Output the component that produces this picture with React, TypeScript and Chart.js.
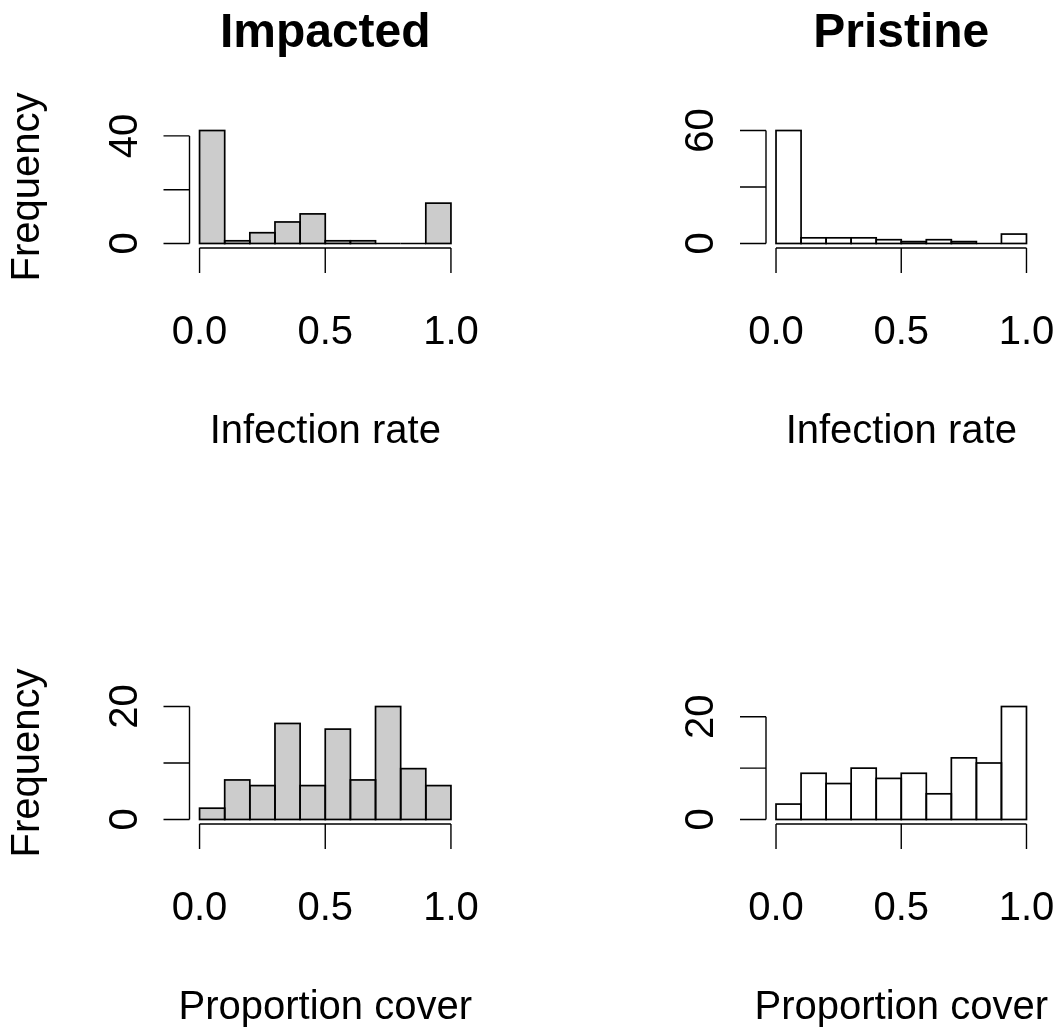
import React, { useEffect, useRef } from "react";
import { Chart, registerables } from "chart.js";

Chart.register(...registerables);

// ---------- data ----------
const binCenters = [0.05, 0.15, 0.25, 0.35, 0.45, 0.55, 0.65, 0.75, 0.85, 0.95];
const impactedInfection = [42, 1, 4, 8, 11, 1, 1, 0, 0, 15];
const pristineInfection = [60, 3, 3, 3, 2, 1, 2, 1, 0, 5];
const impactedCover = [2, 7, 6, 17, 6, 16, 7, 20, 9, 6];
const pristineCover = [3, 9, 7, 10, 8, 9, 5, 12, 11, 22];

const xTicks = [0, 0.5, 1];
const xTickLabels = ["0.0", "0.5", "1.0"];
const yTicksImpInf = [0, 20, 40];
const yLabelsImpInf = ["0", "", "40"];
const yTicksPriInf = [0, 30, 60];
const yLabelsPriInf = ["0", "", "60"];
const yTicksCover = [0, 10, 20];
const yLabelsCover = ["0", "", "20"];

const titles = ["Impacted", "Pristine"];
const xTitleInfection = "Infection rate";
const xTitleCover = "Proportion cover";
const yTitle = "Frequency";

// ---------- layout / style ----------
const W = 1059;
const H = 1030;
const FONT = '"Liberation Sans", Arial, Helvetica, sans-serif';
const LW = 1.7;
const GREY = "#cccccc";

type PanelDef = {
  values: number[];
  fill: string;
  yTicks: number[];
  yLabels: string[];
  xTitle: string;
  title: string | null;
  yTitle: string | null;
  area: { left: number; right: number; top: number; bottom: number };
};

const COLS = [
  { left: 189.5, right: 461 },
  { left: 766, right: 1036.5 },
];
const ROWS = [
  { top: 126, bottom: 248 },
  { top: 702, bottom: 824 },
];

const panels: PanelDef[] = [
  {
    values: impactedInfection, fill: GREY, yTicks: yTicksImpInf, yLabels: yLabelsImpInf,
    xTitle: xTitleInfection, title: titles[0], yTitle: yTitle,
    area: { ...COLS[0], ...ROWS[0] },
  },
  {
    values: pristineInfection, fill: "#ffffff", yTicks: yTicksPriInf, yLabels: yLabelsPriInf,
    xTitle: xTitleInfection, title: titles[1], yTitle: null,
    area: { ...COLS[1], ...ROWS[0] },
  },
  {
    values: impactedCover, fill: GREY, yTicks: yTicksCover, yLabels: yLabelsCover,
    xTitle: xTitleCover, title: null, yTitle: yTitle,
    area: { ...COLS[0], ...ROWS[1] },
  },
  {
    values: pristineCover, fill: "#ffffff", yTicks: yTicksCover, yLabels: yLabelsCover,
    xTitle: xTitleCover, title: null, yTitle: null,
    area: { ...COLS[1], ...ROWS[1] },
  },
];

function makeRPlugin(p: PanelDef) {
  return {
    id: "rStyle",
    afterDatasetsDraw(chart: any) {
      const ctx = chart.ctx as CanvasRenderingContext2D;
      const xs = chart.scales.x;
      const ys = chart.scales.y;
      const a = chart.chartArea;
      ctx.save();
      ctx.strokeStyle = "#000";
      ctx.fillStyle = "#000";
      ctx.lineWidth = LW;

      // bar outlines (centered strokes, like R's rect)
      const meta = chart.getDatasetMeta(0);
      meta.data.forEach((bar: any) => {
        const q = bar.getProps(["x", "y", "base", "width"], true);
        const top = Math.min(q.y, q.base);
        ctx.strokeRect(q.x - q.width / 2, top, q.width, Math.abs(q.base - q.y));
      });

      // x axis
      ctx.lineWidth = 1.4;
      ctx.beginPath();
      const x0 = xs.getPixelForValue(xTicks[0]);
      const x1 = xs.getPixelForValue(xTicks[xTicks.length - 1]);
      ctx.moveTo(x0, a.bottom);
      ctx.lineTo(x1, a.bottom);
      xTicks.forEach((v) => {
        const px = xs.getPixelForValue(v);
        ctx.moveTo(px, a.bottom);
        ctx.lineTo(px, a.bottom + 25);
      });
      // y axis
      const y0 = ys.getPixelForValue(p.yTicks[0]);
      const y1 = ys.getPixelForValue(p.yTicks[p.yTicks.length - 1]);
      ctx.moveTo(a.left, y0);
      ctx.lineTo(a.left, y1);
      p.yTicks.forEach((v) => {
        const py = ys.getPixelForValue(v);
        ctx.moveTo(a.left, py);
        ctx.lineTo(a.left - 26, py);
      });
      ctx.stroke();

      // x tick labels
      ctx.font = `40px ${FONT}`;
      ctx.textAlign = "center";
      ctx.textBaseline = "alphabetic";
      xTicks.forEach((v, i) => {
        ctx.fillText(xTickLabels[i], xs.getPixelForValue(v), a.bottom + 95.5);
      });
      // x title
      const cx = (a.left + a.right) / 2;
      ctx.fillText(p.xTitle, cx, a.bottom + 194.5);

      // y tick labels (rotated)
      p.yTicks.forEach((v, i) => {
        if (!p.yLabels[i]) return;
        ctx.save();
        ctx.translate(a.left - 53, ys.getPixelForValue(v));
        ctx.rotate(-Math.PI / 2);
        ctx.fillText(p.yLabels[i], 0, 0);
        ctx.restore();
      });

      // y title
      if (p.yTitle) {
        ctx.save();
        ctx.translate(a.left - 151, (a.top + a.bottom) / 2);
        ctx.rotate(-Math.PI / 2);
        ctx.fillText(p.yTitle, 0, 0);
        ctx.restore();
      }

      // main title
      if (p.title) {
        ctx.font = `bold 48px ${FONT}`;
        ctx.fillText(p.title, cx, a.top - 79.5);
      }
      ctx.restore();
    },
  };
}

function Panel({ p }: { p: PanelDef }) {
  const ref = useRef<HTMLCanvasElement | null>(null);
  useEffect(() => {
    if (!ref.current) return;
    const ymax = Math.max(...p.values);
    const chart = new Chart(ref.current, {
      type: "bar",
      data: {
        datasets: [
          {
            data: binCenters.map((x, i) => ({ x, y: p.values[i] })),
            backgroundColor: p.fill,
            borderWidth: 0,
            barPercentage: 1,
            categoryPercentage: 1,
            inflateAmount: 0,
          } as any,
        ],
      },
      options: {
        animation: false,
        responsive: false,
        devicePixelRatio: 1,
        events: [],
        layout: {
          padding: {
            left: p.area.left,
            right: W - p.area.right,
            top: p.area.top,
            bottom: H - p.area.bottom,
          },
        },
        plugins: { legend: { display: false }, tooltip: { enabled: false }, title: { display: false } },
        scales: {
          x: {
            type: "linear",
            display: false,
            offset: false,
            min: -0.04,
            max: 1.04,
            afterBuildTicks: (s: any) => {
              s.ticks = xTicks.map((v) => ({ value: v }));
            },
          },
          y: {
            type: "linear",
            display: false,
            min: -0.04 * ymax,
            max: 1.04 * ymax,
          },
        },
      } as any,
      plugins: [makeRPlugin(p)],
    });
    return () => chart.destroy();
  }, [p]);
  return (
    <canvas
      ref={ref}
      width={W}
      height={H}
      style={{ position: "absolute", left: 0, top: 0, width: W, height: H }}
    />
  );
}

export default function App() {
  return (
    <div
      style={{
        position: "absolute",
        left: 0,
        top: 0,
        width: W,
        height: H,
        background: "#ffffff",
        overflow: "hidden",
      }}
    >
      {panels.map((p, i) => (
        <Panel key={i} p={p} />
      ))}
    </div>
  );
}
